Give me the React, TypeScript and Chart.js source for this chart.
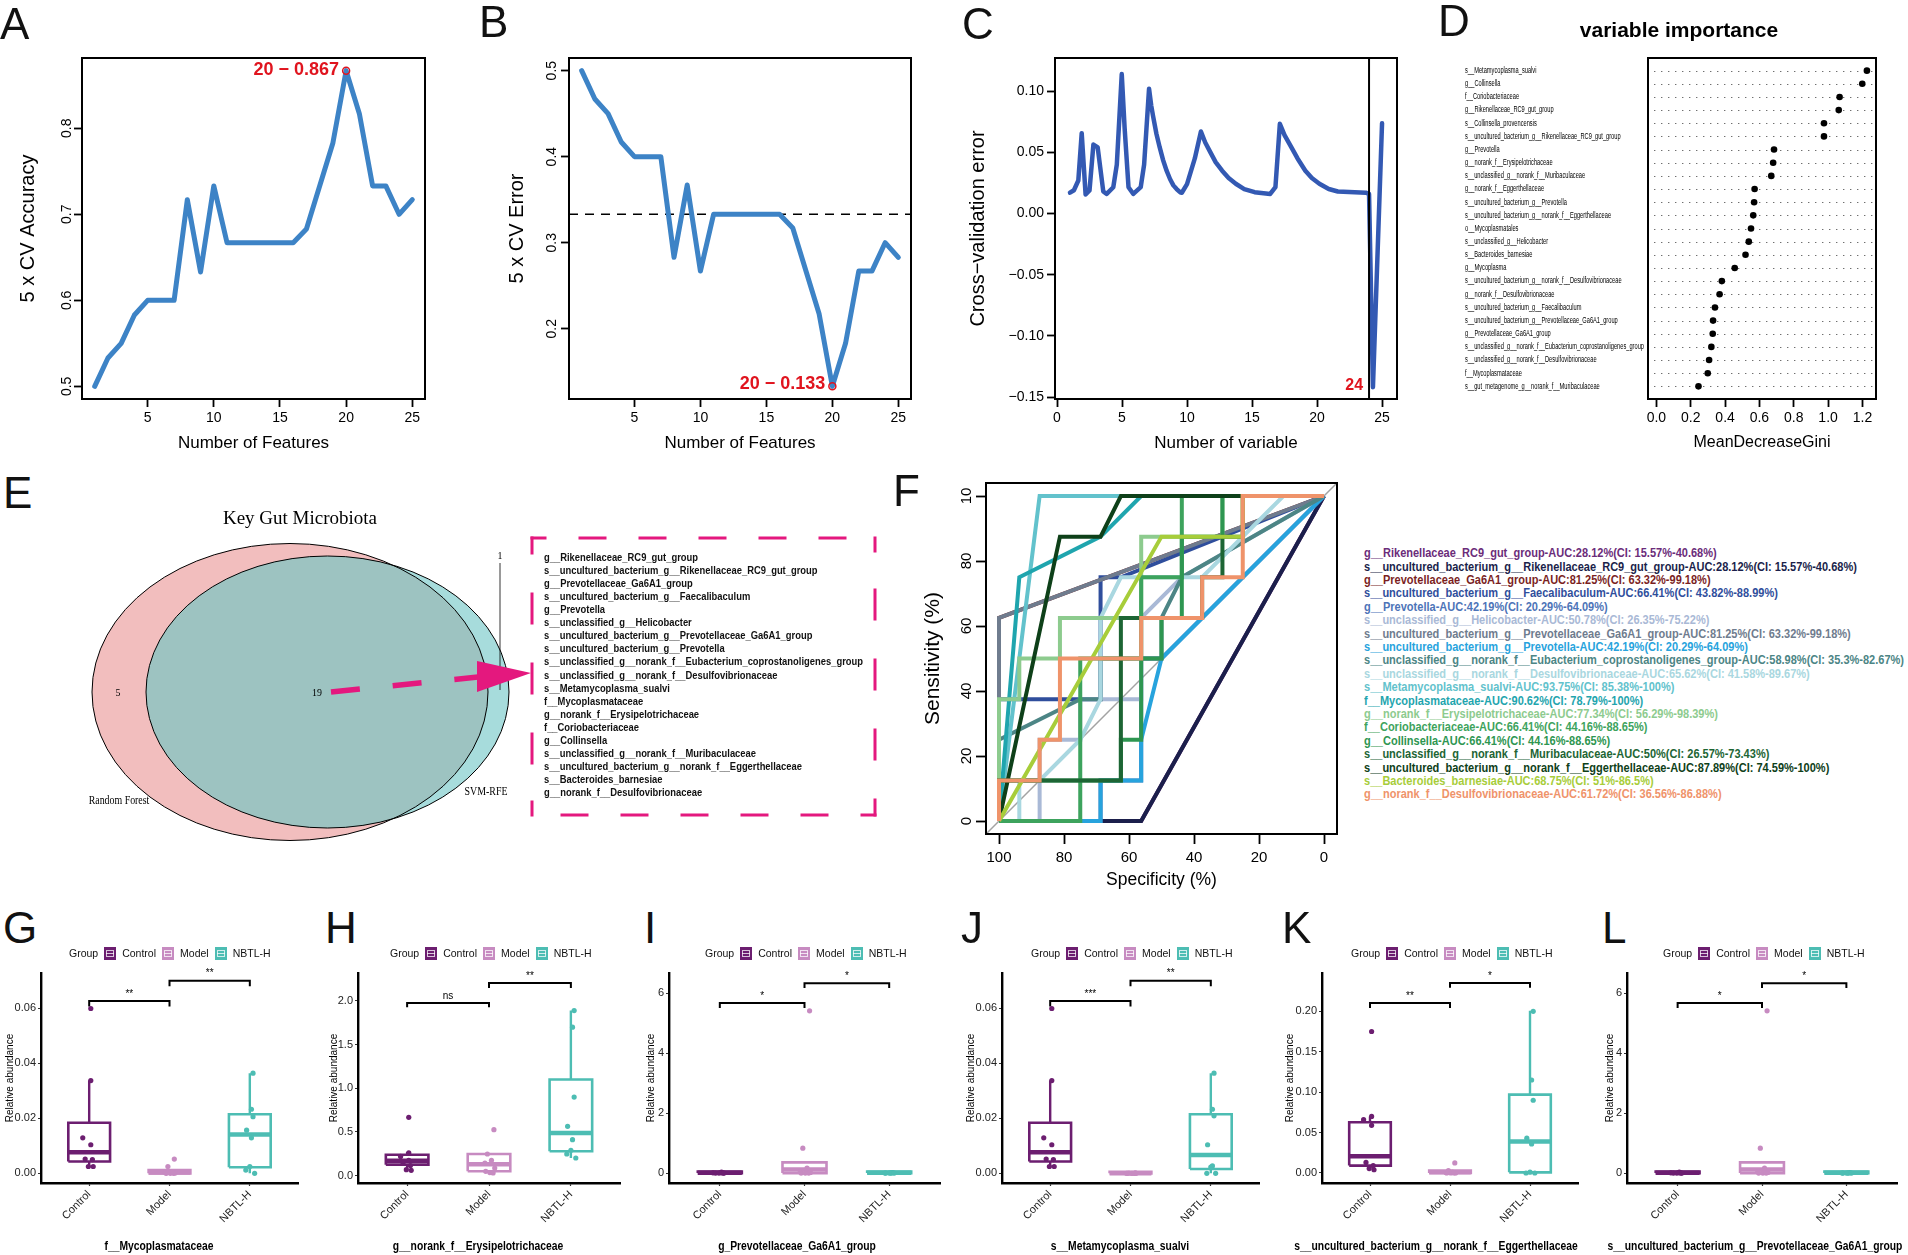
import React, { useEffect, useRef } from "react";
import { Chart, registerables } from "chart.js";

Chart.register(...registerables);

const SANS = "'Liberation Sans', Arial, Helvetica, sans-serif";
const SERIF = "'Liberation Serif', 'Times New Roman', Times, serif";
const RED = "#E0141E";
const LINE_BLUE = "#3D83C6";
const CURVE_BLUE = "#3359B3";

/* ---------------- A / B : SVM-RFE ---------------- */
const FEATURES = [1, 2, 3, 4, 5, 6, 7, 8, 9, 10, 11, 12, 13, 14, 15, 16, 17, 18, 19, 20, 21, 22, 23, 24, 25];
const CV_ACCURACY = [0.5, 0.533, 0.55, 0.583, 0.6, 0.6, 0.6, 0.717, 0.633, 0.733, 0.667, 0.667, 0.667, 0.667, 0.667, 0.667, 0.683, 0.733, 0.783, 0.867, 0.817, 0.733, 0.733, 0.7, 0.717];
const CV_ERROR = [0.5, 0.467, 0.45, 0.417, 0.4, 0.4, 0.4, 0.283, 0.367, 0.267, 0.333, 0.333, 0.333, 0.333, 0.333, 0.333, 0.317, 0.267, 0.217, 0.133, 0.183, 0.267, 0.267, 0.3, 0.283];
const FEATURE_TICKS = [5, 10, 15, 20, 25];
const ACC_TICKS = [0.5, 0.6, 0.7, 0.8];
const ERR_TICKS = [0.2, 0.3, 0.4, 0.5];
const BEST_N = 20;
const BEST_ACC = 0.867;
const BEST_ERR = 0.133;
const ERR_REF = 0.333;

/* ---------------- C : cross-validation ---------------- */
const C_X = [1.0, 1.3, 1.64, 1.9, 2.2, 2.5, 2.8, 3.13, 3.56, 3.82, 4.33, 4.6, 4.98, 5.2, 5.5, 5.87, 6.44, 6.7, 7.08, 7.25, 7.4, 7.65, 7.9, 8.15, 8.43, 8.7, 8.95, 9.2, 9.46, 9.6, 10.0, 10.6, 11.07, 11.4, 11.8, 12.2, 12.7, 13.2, 13.75, 14.4, 15.2, 16.4, 16.8, 17.14, 17.5, 18.03, 18.5, 19.1, 19.6, 20.18, 20.9, 21.6, 23.75, 24.0, 24.3, 25.0];
const C_Y = [0.017, 0.019, 0.027, 0.0656, 0.0155, 0.0188, 0.0564, 0.054, 0.018, 0.016, 0.0215, 0.04, 0.114, 0.07, 0.0215, 0.016, 0.0215, 0.04, 0.102, 0.088, 0.079, 0.065, 0.054, 0.044, 0.035, 0.028, 0.023, 0.02, 0.0174, 0.017, 0.024, 0.045, 0.067, 0.058, 0.05, 0.042, 0.035, 0.029, 0.0243, 0.02, 0.0174, 0.016, 0.0215, 0.0733, 0.064, 0.054, 0.045, 0.035, 0.029, 0.0243, 0.02, 0.018, 0.017, 0.016, -0.142, 0.0738];
const C_X_TICKS = [0, 5, 10, 15, 20, 25];
const C_Y_TICKS = [-0.15, -0.1, -0.05, 0, 0.05, 0.1];
const C_Y_LABELS = ["\u22120.15", "\u22120.10", "\u22120.05", "0.00", "0.05", "0.10"];
const C_BEST = 24;
const C_MIN = -0.142;

/* ---------------- D : variable importance ---------------- */
const D_TAXA = [
  "s__Metamycoplasma_sualvi", "g__Collinsella", "f__Coriobacteriaceae", "g__Rikenellaceae_RC9_gut_group",
  "s__Collinsella_provencensis", "s__uncultured_bacterium_g__Rikenellaceae_RC9_gut_group", "g__Prevotella",
  "g__norank_f__Erysipelotrichaceae", "s__unclassified_g__norank_f__Muribaculaceae", "g__norank_f__Eggerthellaceae",
  "s__uncultured_bacterium_g__Prevotella", "s__uncultured_bacterium_g__norank_f__Eggerthellaceae", "o__Mycoplasmatales",
  "s__unclassified_g__Helicobacter", "s__Bacteroides_barnesiae", "g__Mycoplasma",
  "s__uncultured_bacterium_g__norank_f__Desulfovibrionaceae", "g__norank_f__Desulfovibrionaceae",
  "s__uncultured_bacterium_g__Faecalibaculum", "s__uncultured_bacterium_g__Prevotellaceae_Ga6A1_group",
  "g__Prevotellaceae_Ga6A1_group", "s__unclassified_g__norank_f__Eubacterium_coprostanoligenes_group",
  "s__unclassified_g__norank_f__Desulfovibrionaceae", "f__Mycoplasmataceae", "s__gut_metagenome_g__norank_f__Muribaculaceae",
];
const D_GINI = [1.226, 1.199, 1.067, 1.062, 0.976, 0.976, 0.685, 0.68, 0.669, 0.572, 0.569, 0.564, 0.551, 0.538, 0.519, 0.456, 0.381, 0.368, 0.341, 0.33, 0.328, 0.32, 0.307, 0.299, 0.245];
const D_X_TICKS = [0, 0.2, 0.4, 0.6, 0.8, 1.0, 1.2];

/* ---------------- E : Venn ---------------- */
const VENN_SETS = ["Random Forest", "SVM-RFE"];
const VENN_COUNTS = [5, 19, 1];
const KEY_TAXA = [
  "g__Rikenellaceae_RC9_gut_group", "s__uncultured_bacterium_g__Rikenellaceae_RC9_gut_group", "g__Prevotellaceae_Ga6A1_group",
  "s__uncultured_bacterium_g__Faecalibaculum", "g__Prevotella", "s__unclassified_g__Helicobacter",
  "s__uncultured_bacterium_g__Prevotellaceae_Ga6A1_group", "s__uncultured_bacterium_g__Prevotella",
  "s__unclassified_g__norank_f__Eubacterium_coprostanoligenes_group", "s__unclassified_g__norank_f__Desulfovibrionaceae",
  "s__Metamycoplasma_sualvi", "f__Mycoplasmataceae", "g__norank_f__Erysipelotrichaceae", "f__Coriobacteriaceae",
  "g__Collinsella", "s__unclassified_g__norank_f__Muribaculaceae", "s__uncultured_bacterium_g__norank_f__Eggerthellaceae",
  "s__Bacteroides_barnesiae", "g__norank_f__Desulfovibrionaceae",
];

/* ---------------- F : ROC ---------------- */
const ROC_NAMES = [
  "g__Rikenellaceae_RC9_gut_group", "s__uncultured_bacterium_g__Rikenellaceae_RC9_gut_group", "g__Prevotellaceae_Ga6A1_group",
  "s__uncultured_bacterium_g__Faecalibaculum", "g__Prevotella", "s__unclassified_g__Helicobacter",
  "s__uncultured_bacterium_g__Prevotellaceae_Ga6A1_group", "s__uncultured_bacterium_g__Prevotella",
  "s__unclassified_g__norank_f__Eubacterium_coprostanoligenes_group", "s__unclassified_g__norank_f__Desulfovibrionaceae",
  "s__Metamycoplasma_sualvi", "f__Mycoplasmataceae", "g__norank_f__Erysipelotrichaceae", "f__Coriobacteriaceae",
  "g__Collinsella", "s__unclassified_g__norank_f__Muribaculaceae", "s__uncultured_bacterium_g__norank_f__Eggerthellaceae",
  "s__Bacteroides_barnesiae", "g__norank_f__Desulfovibrionaceae",
];
const ROC_AUC = ["28.12%", "28.12%", "81.25%", "66.41%", "42.19%", "50.78%", "81.25%", "42.19%", "58.98%", "65.62%", "93.75%", "90.62%", "77.34%", "66.41%", "66.41%", "50%", "87.89%", "68.75%", "61.72%"];
const ROC_CI = ["15.57%-40.68%", "15.57%-40.68%", "63.32%-99.18%", "43.82%-88.99%", "20.29%-64.09%", "26.35%-75.22%", "63.32%-99.18%", "20.29%-64.09%", "35.3%-82.67%", "41.58%-89.67%", "85.38%-100%", "78.79%-100%", "56.29%-98.39%", "44.16%-88.65%", "44.16%-88.65%", "26.57%-73.43%", "74.59%-100%", "51%-86.5%", "36.56%-86.88%"];
const ROC_COLORS = ["#6B2C7A", "#1B1F4B", "#7B1F1F", "#2F4E9C", "#4D74B8", "#A9B9D6", "#6F7C8E", "#27A3DD", "#4C8585", "#A9D7E0", "#62C2CC", "#1FA5AE", "#8DCB8E", "#3DA35D", "#2E9651", "#1D6534", "#0E4019", "#A7CD3A", "#EF936A"];
// [specificity, sensitivity] points of each ROC curve
const ROC_CURVES: number[][][] = [
  [[100, 0], [56.25, 0], [0, 100]],
  [[100, 0], [56.25, 0], [0, 100]],
  [[100, 0], [100, 62.5], [0, 100]],
  [[100, 0], [100, 37.5], [68.75, 37.5], [68.75, 75], [62.5, 75], [0, 100]],
  [[100, 0], [68.75, 0], [68.75, 12.5], [56.25, 12.5], [56.25, 50], [50, 50], [0, 100]],
  [[100, 0], [87.5, 0], [87.5, 25], [75, 25], [75, 37.5], [56.25, 37.5], [56.25, 62.5], [43.75, 75], [0, 100]],
  [[100, 0], [100, 62.5], [0, 100]],
  [[100, 0], [68.75, 0], [68.75, 12.5], [56.25, 12.5], [56.25, 25], [50, 50], [0, 100]],
  [[100, 0], [100, 25], [75, 37.5], [68.75, 37.5], [68.75, 50], [50, 50], [50, 62.5], [43.75, 75], [0, 100]],
  [[100, 0], [93.75, 0], [93.75, 12.5], [87.5, 12.5], [75, 25], [68.75, 37.5], [68.75, 62.5], [62.5, 75], [37.5, 75], [12.5, 100], [0, 100]],
  [[100, 0], [87.5, 100], [0, 100]],
  [[100, 0], [93.75, 75], [68.75, 87.5], [56.25, 100], [0, 100]],
  [[100, 0], [100, 37.5], [93.75, 37.5], [93.75, 50], [81.25, 50], [81.25, 62.5], [56.25, 62.5], [56.25, 87.5], [31.25, 87.5], [31.25, 100], [0, 100]],
  [[100, 0], [75, 0], [75, 50], [56.25, 50], [56.25, 75], [43.75, 75], [43.75, 100], [0, 100]],
  [[100, 0], [100, 12.5], [62.5, 12.5], [62.5, 25], [56.25, 25], [56.25, 50], [50, 50], [50, 62.5], [43.75, 62.5], [43.75, 87.5], [31.25, 87.5], [31.25, 100], [0, 100]],
  [[100, 0], [100, 12.5], [62.5, 12.5], [62.5, 62.5], [37.5, 62.5], [37.5, 75], [31.25, 75], [31.25, 87.5], [25, 87.5], [25, 100], [0, 100]],
  [[100, 0], [81.25, 87.5], [68.75, 87.5], [62.5, 100], [0, 100]],
  [[100, 0], [50, 87.5], [25, 87.5], [25, 100], [0, 100]],
  [[100, 0], [100, 12.5], [87.5, 12.5], [87.5, 25], [81.25, 25], [81.25, 50], [56.25, 50], [56.25, 62.5], [37.5, 62.5], [37.5, 75], [25, 75], [25, 100], [0, 100]],
];
const ROC_X_TICKS = [100, 80, 60, 40, 20, 0];
const ROC_Y_TICKS = [0, 20, 40, 60, 80, 100];
const ROC_Y_LABELS = ["0", "20", "40", "60", "80", "10"];

/* ---------------- G–L : boxplots ---------------- */
const GROUPS = ["Control", "Model", "NBTL-H"];
const GROUP_COLORS = ["#6C1E70", "#C78BC1", "#4DBDB3"];
const JITTER = [
  [0.02, 0.02, -0.08, 0.02, -0.05, 0.04, -0.01, 0.05],
  [0.06, -0.02, 0.03, -0.05, 0.07, -0.04, 0.01, 0.05],
  [0.04, 0.02, 0.04, -0.04, 0.02, 0.0, -0.05, 0.06],
];
// stats: [min, q1, median, q3, max] per group; sig: [from, to, y, tip, label]
const G_STATS = [[0.0025, 0.0043, 0.0077, 0.0184, 0.0337], [0, 0, 0.0003, 0.0012, 0.0012], [0, 0.0022, 0.0141, 0.0215, 0.0364]];
const G_POINTS = [[0.0599, 0.0337, 0.0129, 0.0104, 0.0052, 0.005, 0.0025, 0.0025], [0.0052, 0.0025, 0.0004, 0.0002, 0.0001, 0, 0, 0], [0.0364, 0.0233, 0.0206, 0.0157, 0.0129, 0.0025, 0.0012, 0]];
const G_SIG: [number, number, number, number, string][] = [[1, 2, 0.0626, 0.0606, "**"], [2, 3, 0.07, 0.068, "**"]];
const H_STATS = [[0.06, 0.126, 0.17, 0.24, 0.27], [0.03, 0.05, 0.13, 0.248, 0.26], [0.202, 0.279, 0.489, 1.1, 1.89]];
const H_POINTS = [[0.668, 0.26, 0.22, 0.176, 0.145, 0.115, 0.069, 0.061], [0.527, 0.248, 0.176, 0.145, 0.088, 0.05, 0.035, 0.031], [1.89, 1.7, 0.9, 0.565, 0.412, 0.29, 0.248, 0.202]];
const H_SIG: [number, number, number, number, string][] = [[1, 2, 1.977, 1.927, "ns"], [2, 3, 2.206, 2.149, "**"]];
const I_STATS = [[0, 0, 0.01, 0.05, 0.05], [0, 0, 0.12, 0.356, 0.356], [0, 0, 0.01, 0.05, 0.05]];
const I_POINTS = [[0.03, 0.02, 0.01, 0.01, 0, 0, 0, 0], [5.41, 0.83, 0.17, 0.05, 0.02, 0, 0, 0], [0.02, 0.01, 0.01, 0, 0, 0, 0, 0]];
const I_SIG: [number, number, number, number, string][] = [[1, 2, 5.67, 5.5, "*"], [2, 3, 6.33, 6.17, "*"]];
const J_STATS = [[0.0025, 0.0043, 0.0077, 0.0184, 0.0337], [0, 0, 0, 0.0006, 0.0006], [0, 0.0016, 0.0067, 0.0215, 0.0364]];
const J_POINTS = [[0.0599, 0.0337, 0.0129, 0.0104, 0.0052, 0.005, 0.0025, 0.0025], [0.0002, 0.0001, 0, 0, 0, 0, 0, 0], [0.0364, 0.0233, 0.0209, 0.0104, 0.0027, 0.0023, 0, 0]];
const J_SIG: [number, number, number, number, string][] = [[1, 2, 0.0626, 0.0606, "***"], [2, 3, 0.07, 0.068, "**"]];
const K_STATS = [[0.004, 0.0091, 0.0206, 0.0627, 0.07], [0, 0, 0.001, 0.003, 0.003], [0, 0.0008, 0.039, 0.0969, 0.2008]];
const K_POINTS = [[0.175, 0.07, 0.066, 0.059, 0.013, 0.009, 0.0054, 0.004], [0.0124, 0.003, 0.001, 0.0005, 0, 0, 0, 0], [0.2, 0.115, 0.09, 0.043, 0.036, 0.001, 0, 0]];
const K_SIG: [number, number, number, number, string][] = [[1, 2, 0.2103, 0.204, "**"], [2, 3, 0.235, 0.229, "*"]];
const L_STATS = [[0, 0, 0.01, 0.05, 0.05], [0, 0, 0.12, 0.356, 0.356], [0, 0, 0.01, 0.05, 0.05]];
const L_POINTS = [[0.03, 0.02, 0.01, 0.01, 0, 0, 0, 0], [5.41, 0.83, 0.17, 0.05, 0.02, 0, 0, 0], [0.02, 0.01, 0.01, 0, 0, 0, 0, 0]];
const L_SIG: [number, number, number, number, string][] = [[1, 2, 5.67, 5.5, "*"], [2, 3, 6.33, 6.17, "*"]];
const TICKS_SMALL = [0, 0.02, 0.04, 0.06];
const TICKS_SMALL_LBL = ["0.00", "0.02", "0.04", "0.06"];
const TICKS_H = [0, 0.5, 1, 1.5, 2];
const TICKS_H_LBL = ["0.0", "0.5", "1.0", "1.5", "2.0"];
const TICKS_INT = [0, 2, 4, 6];
const TICKS_INT_LBL = ["0", "2", "4", "6"];
const TICKS_K = [0, 0.05, 0.1, 0.15, 0.2];
const TICKS_K_LBL = ["0.00", "0.05", "0.10", "0.15", "0.20"];

/* ---------------- helpers ---------------- */
type Box = { left: number; top: number; width: number; height: number };
type Area = { L: number; T: number; R: number; B: number };
type Item = { x: number; y: number; text: string; font: string; color?: string; align?: CanvasTextAlign; baseline?: CanvasTextBaseline; dx?: number; dy?: number; rot?: number; sx?: number; page?: boolean };

let measureCtx: CanvasRenderingContext2D | null = null;
function textWidth(text: string, font: string) {
  if (!measureCtx) measureCtx = document.createElement("canvas").getContext("2d");
  if (!measureCtx) return text.length * 6;
  measureCtx.font = font;
  return measureCtx.measureText(text).width;
}

function drawItem(chart: any, b: Box, t: Item) {
  const ctx = chart.ctx;
  let px: number, py: number;
  if (t.page) { px = t.x - b.left; py = t.y - b.top; }
  else { px = chart.scales.x.getPixelForValue(t.x); py = chart.scales.y.getPixelForValue(t.y); }
  ctx.save();
  ctx.translate(px + (t.dx || 0), py + (t.dy || 0));
  if (t.rot) ctx.rotate(t.rot);
  if (t.sx) ctx.scale(t.sx, 1);
  ctx.font = t.font;
  ctx.fillStyle = t.color || "#000";
  ctx.textAlign = t.align || "center";
  ctx.textBaseline = t.baseline || "middle";
  ctx.fillText(t.text, 0, 0);
  ctx.restore();
}

function overlay(b: Box, o: { frame?: number; rotY?: { ticks: number[]; labels: string[]; pageX: number; font: string }; texts?: Item[]; under?: (c: any) => void; over?: (c: any) => void }) {
  return {
    id: "overlay",
    beforeDatasetsDraw(chart: any) { if (o.under) o.under(chart); },
    afterDatasetsDraw(chart: any) { if (o.over) o.over(chart); },
    afterDraw(chart: any) {
      const ctx = chart.ctx;
      const ca = chart.chartArea;
      if (o.frame) {
        ctx.save();
        ctx.lineWidth = o.frame;
        ctx.strokeStyle = "#000";
        ctx.strokeRect(ca.left, ca.top, ca.right - ca.left, ca.bottom - ca.top);
        ctx.restore();
      }
      if (o.rotY) {
        const r = o.rotY;
        const ys = chart.scales.y;
        r.ticks.forEach((v, i) => drawItem(chart, b, { page: true, x: r.pageX, y: ys.getPixelForValue(v) + b.top, text: r.labels[i], font: r.font, rot: -Math.PI / 2 }));
      }
      (o.texts || []).forEach((t) => drawItem(chart, b, t));
    },
  };
}

function axis(o: any) {
  return {
    type: "linear", bounds: "data", min: o.min, max: o.max, reverse: !!o.reverse, position: o.position,
    afterFit: o.fit,
    afterBuildTicks: (s: any) => { s.ticks = o.ticks.map((v: number) => ({ value: v })); },
    ticks: {
      display: o.showLabels !== false, autoSkip: false, minRotation: o.rotation || 0, maxRotation: o.rotation || 0,
      padding: o.pad ?? 3, color: o.color || "#000", font: { family: SANS, size: o.size || 14 },
      callback: (_v: any, i: number) => (o.labels ? o.labels[i] : ""),
    },
    grid: o.grid || { display: true, drawOnChartArea: false, drawTicks: true, tickLength: o.tl ?? 8, tickWidth: o.tickWidth ?? 1.8, tickColor: o.tickColor || "#000", color: "#000", lineWidth: 1 },
    border: o.border ? { display: true, width: o.border, color: "#000" } : { display: false },
    title: o.title
      ? { display: true, text: o.title, color: "#000", font: { family: SANS, size: o.titleSize, weight: "normal" }, padding: { top: o.titlePad, bottom: o.titlePad } }
      : { display: false },
  };
}

function baseOptions(b: Box, a: Area, scales: any) {
  return {
    responsive: false, animation: false, events: [],
    layout: { padding: { left: 0, bottom: 0, top: a.T - b.top, right: b.left + b.width - a.R } },
    plugins: { legend: { display: false }, tooltip: { enabled: false } },
    scales,
  };
}

function rPlot(b: Box, a: Area, s: any) {
  const W = a.L - b.left;
  const H = b.top + b.height - a.B;
  const xTitlePad = b.top + b.height - (s.xTitleSize * 1.2) / 2 - s.xTitleY;
  const yTitlePad = s.yTitleX - b.left - (s.yTitleSize * 1.2) / 2;
  return {
    type: "scatter",
    data: { datasets: s.datasets },
    options: baseOptions(b, a, {
      x: axis({ position: "bottom", min: s.xMin, max: s.xMax, reverse: s.xReverse, ticks: s.xTicks, labels: s.xLabels, size: s.tickSize, pad: s.xPad ?? 3, tl: s.tl ?? 8, title: s.xTitle, titleSize: s.xTitleSize, titlePad: xTitlePad, fit: (sc: any) => { sc.height = H; } }),
      y: axis({ position: "left", min: s.yMin, max: s.yMax, ticks: s.yTicks, labels: s.yLabels, showLabels: !s.yRotX && !s.hideY, size: s.tickSize, pad: 3, tl: s.tl ?? 8, grid: s.yGrid, title: s.yTitle, titleSize: s.yTitleSize, titlePad: yTitlePad, fit: (sc: any) => { sc.width = W; } }),
    }),
    plugins: [overlay(b, { frame: 2, rotY: s.yRotX ? { ticks: s.yTicks, labels: s.yLabels, pageX: s.yRotX, font: `${s.tickSize}px ${SANS}` } : undefined, texts: s.texts, under: s.under, over: s.over })],
  };
}

const line = (pts: { x: number; y: number | null }[], color: string, width: number, extra: any = {}) => ({
  data: pts, showLine: true, borderColor: color, borderWidth: width, pointRadius: 0, fill: false, ...extra,
});

/* ---------------- chart configs ---------------- */
const A_BOX: Box = { left: 6, top: 40, width: 434, height: 420 };
const A_AREA: Area = { L: 82, T: 58, R: 425, B: 399 };
const B_BOX: Box = { left: 495, top: 40, width: 435, height: 420 };
const B_AREA: Area = { L: 569, T: 58, R: 911, B: 399 };
const C_BOX: Box = { left: 956, top: 40, width: 452, height: 420 };
const C_AREA: Area = { L: 1055, T: 58, R: 1397, B: 399 };
const D_BOX: Box = { left: 1455, top: 40, width: 445, height: 420 };
const D_AREA: Area = { L: 1648, T: 58, R: 1876, B: 399 };
const F_BOX: Box = { left: 910, top: 468, width: 440, height: 437 };
const F_AREA: Area = { L: 986, T: 483, R: 1337, B: 834 };
const E_BOX: Box = { left: 0, top: 525, width: 890, height: 325 };

function configA() {
  return rPlot(A_BOX, A_AREA, {
    datasets: [
      line(FEATURES.map((n, i) => ({ x: n, y: CV_ACCURACY[i] })), LINE_BLUE, 5, { order: 2, borderJoinStyle: "round", borderCapStyle: "round" }),
      { data: [{ x: BEST_N, y: BEST_ACC }], pointRadius: 3.5, pointBorderColor: RED, pointBackgroundColor: "rgba(0,0,0,0)", pointBorderWidth: 1.5, order: 1 },
    ],
    xMin: 0.04, xMax: 25.96, xTicks: FEATURE_TICKS, xLabels: FEATURE_TICKS.map(String), xTitle: "Number of Features", xTitleSize: 17, xTitleY: 443,
    yMin: 0.4853, yMax: 0.8817, yTicks: ACC_TICKS, yLabels: ACC_TICKS.map((v) => v.toFixed(1)), yTitle: "5 x CV Accuracy", yTitleSize: 20, yTitleX: 28, yRotX: 67,
    tickSize: 14,
    texts: [{ x: BEST_N, y: BEST_ACC, text: `${BEST_N} \u2212 ${BEST_ACC}`, font: `bold 18px ${SANS}`, color: RED, align: "right", dx: -7, dy: -1 }],
  });
}

function configB() {
  return rPlot(B_BOX, B_AREA, {
    datasets: [
      line(FEATURES.map((n, i) => ({ x: n, y: CV_ERROR[i] })), LINE_BLUE, 5, { order: 2, borderJoinStyle: "round", borderCapStyle: "round" }),
      line([{ x: 0.04, y: ERR_REF }, { x: 25.96, y: ERR_REF }], "#000", 1.6, { order: 3, borderDash: [9, 7] }),
      { data: [{ x: BEST_N, y: BEST_ERR }], pointRadius: 3.5, pointBorderColor: RED, pointBackgroundColor: "rgba(0,0,0,0)", pointBorderWidth: 1.5, order: 1 },
    ],
    xMin: 0.04, xMax: 25.96, xTicks: FEATURE_TICKS, xLabels: FEATURE_TICKS.map(String), xTitle: "Number of Features", xTitleSize: 17, xTitleY: 443,
    yMin: 0.1183, yMax: 0.5147, yTicks: ERR_TICKS, yLabels: ERR_TICKS.map((v) => v.toFixed(1)), yTitle: "5 x CV Error", yTitleSize: 20, yTitleX: 517, yRotX: 552,
    tickSize: 14,
    texts: [{ x: BEST_N, y: BEST_ERR, text: `${BEST_N} \u2212 ${BEST_ERR}`, font: `bold 18px ${SANS}`, color: RED, align: "right", dx: -7, dy: -2 }],
  });
}

function configC() {
  return rPlot(C_BOX, C_AREA, {
    datasets: [
      line(C_X.map((x, i) => ({ x, y: C_Y[i] })), CURVE_BLUE, 4.5, { order: 2, tension: 0, borderJoinStyle: "round", borderCapStyle: "round" }),
      line([{ x: C_BEST, y: -0.1516 }, { x: C_BEST, y: 0.1271 }], "#000", 2, { order: 1 }),
    ],
    xMin: -0.154, xMax: 26.15, xTicks: C_X_TICKS, xLabels: C_X_TICKS.map(String), xTitle: "Number of variable", xTitleSize: 17, xTitleY: 443,
    yMin: -0.1516, yMax: 0.1271, yTicks: C_Y_TICKS, yLabels: C_Y_LABELS, yTitle: "Cross\u2212validation error", yTitleSize: 20, yTitleX: 978,
    tickSize: 14,
    texts: [{ x: C_BEST, y: C_MIN, text: String(C_BEST), font: `bold 16px ${SANS}`, color: RED, align: "right", dx: -6, dy: -2 }],
  });
}

function configD() {
  const b = D_BOX;
  const rows = D_TAXA.length;
  return rPlot(b, D_AREA, {
    datasets: [{ data: D_GINI.map((v, i) => ({ x: v, y: rows - i })), pointRadius: 3.3, pointBackgroundColor: "#000", pointBorderWidth: 0, order: 1 }],
    xMin: -0.049, xMax: 1.279, xTicks: D_X_TICKS, xLabels: D_X_TICKS.map((v) => v.toFixed(1)), xTitle: "MeanDecreaseGini", xTitleSize: 16, xTitleY: 443,
    yMin: 0.04, yMax: rows + 0.96, yTicks: D_TAXA.map((_t, i) => i + 1), yLabels: [], hideY: true, yTitleSize: 12, yTitleX: 1470,
    yGrid: { display: false },
    tickSize: 14,
    under: (chart: any) => {
      const ctx = chart.ctx;
      const ys = chart.scales.y;
      const ca = chart.chartArea;
      ctx.save();
      ctx.strokeStyle = "#6f6f6f";
      ctx.lineWidth = 1;
      ctx.setLineDash([1.4, 5.6]);
      D_TAXA.forEach((_t, i) => {
        const y = Math.round(ys.getPixelForValue(rows - i)) + 0.5;
        ctx.beginPath();
        ctx.moveTo(ca.left + 6, y);
        ctx.lineTo(ca.right - 2, y);
        ctx.stroke();
      });
      ctx.restore();
    },
    over: (chart: any) => {
      const ctx = chart.ctx;
      const ys = chart.scales.y;
      const f = `8.5px ${SANS}`;
      ctx.save();
      ctx.font = f;
      const maxW = Math.max(...D_TAXA.map((t) => ctx.measureText(t).width));
      const sx = 179 / maxW;
      D_TAXA.forEach((t, i) => {
        ctx.save();
        ctx.translate(1465 - b.left, ys.getPixelForValue(rows - i));
        ctx.scale(sx, 1);
        ctx.font = f;
        ctx.fillStyle = "#000";
        ctx.textAlign = "left";
        ctx.textBaseline = "middle";
        ctx.fillText(t, 0, 0);
        ctx.restore();
      });
      ctx.restore();
    },
  });
}

function configF() {
  return rPlot(F_BOX, F_AREA, {
    datasets: [
      line([{ x: 104, y: -4 }, { x: -4, y: 104 }], "#A3A3A3", 1.5, { order: 500 }),
      ...ROC_CURVES.map((c, i) => line(c.map(([sp, se]) => ({ x: sp, y: se })), ROC_COLORS[i], 4, { order: 200 - i, borderJoinStyle: "miter" })),
    ],
    xMin: -4, xMax: 104, xReverse: true, xTicks: ROC_X_TICKS, xLabels: ROC_X_TICKS.map(String), xTitle: "Specificity (%)", xTitleSize: 17.5, xTitleY: 880, xPad: 5, tl: 10,
    yMin: -4, yMax: 104, yTicks: ROC_Y_TICKS, yLabels: ROC_Y_LABELS, yTitle: "Sensitivity (%)", yTitleSize: 21, yTitleX: 933, yRotX: 967,
    tickSize: 15,
  });
}

const VENN_GEOM = {
  rf: { cx: 290, cy: 692, rx: 198, ry: 148.5, fill: "#F2BEBE" },
  svm: { cx: 327.5, cy: 692, rx: 181.5, ry: 136, fill: "#A7DCDC" },
  both: "#9DC3C1",
  labels: [[118, 693], [317, 693], [500, 556]],
  names: [[119, 801], [486, 792]],
  leader: [[500, 563], [500, 690]],
  arrow: [[331, 692], [478, 677]],
  head: [[477, 661], [531, 673], [477, 692]],
  rect: [532, 538, 875, 815],
};
const MAGENTA = "#E4187E";

function configE() {
  const b = E_BOX;
  const g = VENN_GEOM;
  const under = (chart: any) => {
    const ctx = chart.ctx;
    const sx = chart.scales.x, sy = chart.scales.y;
    const ell = (e: any) => {
      const cx = sx.getPixelForValue(e.cx), cy = sy.getPixelForValue(e.cy);
      const rx = Math.abs(sx.getPixelForValue(e.cx + e.rx) - cx), ry = Math.abs(sy.getPixelForValue(e.cy + e.ry) - cy);
      ctx.beginPath();
      ctx.ellipse(cx, cy, rx, ry, 0, 0, Math.PI * 2);
    };
    ctx.save();
    ell(g.rf); ctx.fillStyle = g.rf.fill; ctx.fill();
    ell(g.svm); ctx.fillStyle = g.svm.fill; ctx.fill();
    ctx.save(); ell(g.rf); ctx.clip(); ell(g.svm); ctx.fillStyle = g.both; ctx.fill(); ctx.restore();
    ctx.lineWidth = 1; ctx.strokeStyle = "#000";
    ell(g.rf); ctx.stroke();
    ell(g.svm); ctx.stroke();
    ctx.lineWidth = 0.8;
    ctx.beginPath();
    ctx.moveTo(sx.getPixelForValue(g.leader[0][0]), sy.getPixelForValue(g.leader[0][1]));
    ctx.lineTo(sx.getPixelForValue(g.leader[1][0]), sy.getPixelForValue(g.leader[1][1]));
    ctx.stroke();
    const [x1, y1, x2, y2] = g.rect;
    const p1 = [sx.getPixelForValue(x1), sy.getPixelForValue(y1)], p2 = [sx.getPixelForValue(x2), sy.getPixelForValue(y2)];
    ctx.strokeStyle = MAGENTA; ctx.lineWidth = 3; ctx.lineCap = "butt";
    const side = (ax: number, ay: number, bx: number, by: number, d: number[]) => {
      ctx.setLineDash(d); ctx.lineDashOffset = 0;
      ctx.beginPath(); ctx.moveTo(ax, ay); ctx.lineTo(bx, by); ctx.stroke();
    };
    side(p1[0] - 1.5, p1[1], p2[0] + 1.5, p1[1], [16, 32, 28, 32, 28, 32, 28, 32, 28, 32, 28, 32]);
    side(p2[0], p1[1] - 1.5, p2[0], p2[1] + 1.5, [16, 36, 32, 38, 32, 38, 32, 38, 32, 38]);
    side(p2[0] + 1.5, p2[1], p1[0] - 1.5, p2[1], [16, 32, 28, 32, 28, 32, 28, 32, 28, 32, 28, 32]);
    side(p1[0], p2[1] + 1.5, p1[0], p1[1] - 1.5, [16, 36, 32, 38, 32, 38, 32, 38, 32, 38]);
    ctx.setLineDash([]);
    ctx.restore();
  };
  const over = (chart: any) => {
    const ctx = chart.ctx;
    const sx = chart.scales.x, sy = chart.scales.y;
    ctx.save();
    ctx.fillStyle = MAGENTA;
    ctx.beginPath();
    g.head.forEach(([x, y], i) => { const px = sx.getPixelForValue(x), py = sy.getPixelForValue(y); if (i === 0) ctx.moveTo(px, py); else ctx.lineTo(px, py); });
    ctx.closePath(); ctx.fill();
    ctx.restore();
  };
  const texts: Item[] = [
    ...VENN_COUNTS.map((c, i) => ({ x: g.labels[i][0], y: g.labels[i][1], text: String(c), font: `11px ${SERIF}`, sx: 0.9 })),
    ...VENN_SETS.map((s, i) => ({ x: g.names[i][0], y: g.names[i][1], text: s, font: `11.5px ${SERIF}`, sx: 0.86 })),
  ];
  return {
    type: "scatter",
    data: { datasets: [line([{ x: g.arrow[0][0], y: g.arrow[0][1] }, { x: g.arrow[1][0], y: g.arrow[1][1] }], MAGENTA, 5.5, { borderDash: [29, 33], borderCapStyle: "butt" })] },
    options: {
      responsive: false, animation: false, events: [],
      layout: { padding: 0 },
      plugins: { legend: { display: false }, tooltip: { enabled: false } },
      scales: {
        x: { type: "linear", min: 0, max: b.width, display: false },
        y: { type: "linear", min: b.top, max: b.top + b.height, reverse: true, display: false },
      },
    },
    plugins: [{
      id: "venn",
      beforeDatasetsDraw: (c: any) => { under(c); texts.forEach((t) => drawItem(c, b, t)); },
      afterDatasetsDraw: (c: any) => over(c),
    }],
  };
}

type PanelData = { stats: number[][]; pts: number[][]; sig: [number, number, number, number, string][]; ticks: number[]; labels: string[]; yMin: number; yMax: number; title: string };
const PANEL_DATA: PanelData[] = [
  { stats: G_STATS, pts: G_POINTS, sig: G_SIG, ticks: TICKS_SMALL, labels: TICKS_SMALL_LBL, yMin: -0.0035, yMax: 0.0728, title: "f__Mycoplasmataceae" },
  { stats: H_STATS, pts: H_POINTS, sig: H_SIG, ticks: TICKS_H, labels: TICKS_H_LBL, yMin: -0.084, yMax: 2.32, title: "g__norank_f__Erysipelotrichaceae" },
  { stats: I_STATS, pts: I_POINTS, sig: I_SIG, ticks: TICKS_INT, labels: TICKS_INT_LBL, yMin: -0.33, yMax: 6.67, title: "g_Prevotellaceae_Ga6A1_group" },
  { stats: J_STATS, pts: J_POINTS, sig: J_SIG, ticks: TICKS_SMALL, labels: TICKS_SMALL_LBL, yMin: -0.0035, yMax: 0.0728, title: "s__Metamycoplasma_sualvi" },
  { stats: K_STATS, pts: K_POINTS, sig: K_SIG, ticks: TICKS_K, labels: TICKS_K_LBL, yMin: -0.0124, yMax: 0.2474, title: "s__uncultured_bacterium_g__norank_f__Eggerthellaceae" },
  { stats: L_STATS, pts: L_POINTS, sig: L_SIG, ticks: TICKS_INT, labels: TICKS_INT_LBL, yMin: -0.33, yMax: 6.67, title: "s__uncultured_bacterium_g__Prevotellaceae_Ga6A1_group" },
];
const PANEL_LAYOUT = [
  { letter: "G", letterX: 3, L: 41, R: 298, titleX: 10, titleCx: 159, legendX: 69 },
  { letter: "H", letterX: 325, L: 358, R: 620, titleX: 334, titleCx: 478, legendX: 390 },
  { letter: "I", letterX: 644, L: 669, R: 940, titleX: 651, titleCx: 797, legendX: 705 },
  { letter: "J", letterX: 961, L: 1002, R: 1259, titleX: 971, titleCx: 1120, legendX: 1031 },
  { letter: "K", letterX: 1282, L: 1322, R: 1578, titleX: 1290, titleCx: 1436, legendX: 1351 },
  { letter: "L", letterX: 1602, L: 1627, R: 1897, titleX: 1610, titleCx: 1755, legendX: 1663 },
];
const BOX_TOP = 973, BOX_BOTTOM = 1183;

function panelBox(i: number): Box {
  const p = PANEL_LAYOUT[i];
  const left = p.titleX - 8;
  return { left, top: 955, width: p.R + 10 - left, height: 1255 - 955 };
}

function configBox(i: number) {
  const p = PANEL_LAYOUT[i];
  const d = PANEL_DATA[i];
  const b = panelBox(i);
  const a: Area = { L: p.L, T: BOX_TOP, R: p.R, B: BOX_BOTTOM };
  const hw = 0.26;
  const ds: any[] = [];
  d.stats.forEach((s, gi) => {
    const c = gi + 1;
    const [mn, q1, md, q3, mx] = s;
    const col = GROUP_COLORS[gi];
    ds.push(line([{ x: c - hw, y: q1 }, { x: c - hw, y: q3 }, { x: c + hw, y: q3 }, { x: c + hw, y: q1 }, { x: c - hw, y: q1 }], col, 2.6, { order: 4, borderJoinStyle: "miter" }));
    ds.push(line([{ x: c, y: q3 }, { x: c, y: mx }, { x: c, y: null }, { x: c, y: mn }, { x: c, y: q1 }], col, 2.4, { order: 5, spanGaps: false }));
    ds.push(line([{ x: c - hw, y: md }, { x: c + hw, y: md }], col, 4.5, { order: 3 }));
    ds.push({ data: d.pts[gi].map((v, k) => ({ x: c + JITTER[gi][k], y: v })), pointRadius: 2.6, pointBackgroundColor: col, pointBorderWidth: 0, order: 1 });
  });
  const br: { x: number; y: number | null }[] = [];
  d.sig.forEach(([f, t, y, tip]) => { br.push({ x: f, y: tip }, { x: f, y }, { x: t, y }, { x: t, y: tip }, { x: t, y: null }); });
  ds.push(line(br, "#000", 2, { order: 2, spanGaps: false }));
  const W = a.L - b.left;
  const H = b.top + b.height - a.B;
  const texts: Item[] = [
    ...d.sig.map(([f, t, y, _tip, lbl]) => ({ x: (f + t) / 2, y, text: lbl, font: `10px ${SANS}`, dy: -7 })),
    { page: true, x: p.titleCx, y: 1247, text: d.title, font: `bold 12px ${SANS}`, sx: 0.86 },
  ];
  return {
    type: "scatter",
    data: { datasets: ds },
    options: baseOptions(b, a, {
      x: axis({ position: "bottom", min: 0.4, max: 3.6, ticks: [1, 2, 3], labels: GROUPS, rotation: 45, size: 11, pad: 2, tl: 3, tickWidth: 1.2, tickColor: "#333", color: "#222", border: 2.4, fit: (sc: any) => { sc.height = H; } }),
      y: axis({ position: "left", min: d.yMin, max: d.yMax, ticks: d.ticks, labels: d.labels, size: 11, pad: 2, tl: 3, tickWidth: 1.2, tickColor: "#333", color: "#222", border: 2.4, title: "Relative abundance", titleSize: 10, titlePad: 2, fit: (sc: any) => { sc.width = W; } }),
    }),
    plugins: [overlay(b, { texts })],
  };
}

/* ---------------- components ---------------- */
function ChartCanvas({ box, config }: { box: Box; config: () => any }) {
  const ref = useRef<HTMLCanvasElement | null>(null);
  useEffect(() => {
    if (!ref.current) return;
    const chart = new Chart(ref.current, config());
    return () => chart.destroy();
  }, []);
  return <canvas ref={ref} width={box.width} height={box.height} style={{ position: "absolute", left: box.left, top: box.top, width: box.width, height: box.height }} />;
}

function Txt({ x, y, size, children, weight = 400, color = "#000", family = SANS, align = "left", sx = 1 }: any) {
  const tx = align === "center" ? "translateX(-50%) " : align === "right" ? "translateX(-100%) " : "";
  const origin = align === "center" ? "50% 50%" : align === "right" ? "100% 50%" : "0 50%";
  return (
    <div style={{ position: "absolute", left: x, top: y - size * 0.55, fontSize: size, lineHeight: `${size}px`, fontWeight: weight, color, fontFamily: family, whiteSpace: "nowrap", transform: `${tx}scaleX(${sx})`, transformOrigin: origin }}>
      {children}
    </div>
  );
}

function Letter({ x, capTop, ch }: { x: number; capTop: number; ch: string }) {
  return <div style={{ position: "absolute", left: x, top: capTop - 5.7, fontSize: 44, lineHeight: "44px", fontFamily: SANS, color: "#111" }}>{ch}</div>;
}

function KeyGlyph({ color }: { color: string }) {
  return (
    <span style={{ position: "relative", display: "inline-block", width: 12, height: 13, background: color }}>
      <span style={{ position: "absolute", left: 2, top: 3, width: 6, height: 5, border: "1px solid rgba(255,255,255,0.75)" }} />
      <span style={{ position: "absolute", left: 2, top: 6, width: 8, height: 1, background: "rgba(255,255,255,0.75)" }} />
    </span>
  );
}

function GroupLegend({ x, y }: { x: number; y: number }) {
  return (
    <div style={{ position: "absolute", left: x, top: y - 8, height: 16, display: "flex", alignItems: "center", fontSize: 10.5, fontFamily: SANS, color: "#111", whiteSpace: "nowrap" }}>
      <span style={{ marginRight: 6 }}>Group</span>
      {GROUPS.map((g, i) => (
        <React.Fragment key={g}>
          <KeyGlyph color={GROUP_COLORS[i]} />
          <span style={{ marginLeft: 6, marginRight: 6 }}>{g}</span>
        </React.Fragment>
      ))}
    </div>
  );
}

export default function App() {
  useEffect(() => { document.body.style.margin = "0"; }, []);
  const rocLines = ROC_NAMES.map((n, i) => `${n}-AUC:${ROC_AUC[i]}(CI: ${ROC_CI[i]})`);
  const rocFont = `bold 12.5px ${SANS}`;
  const rocSx = 540 / Math.max(...rocLines.map((l) => textWidth(l, rocFont)));
  const keyFont = `bold 11.5px ${SANS}`;
  const keySx = 319 / Math.max(...KEY_TAXA.map((t) => textWidth(t, keyFont)));
  return (
    <div style={{ position: "absolute", left: 0, top: 0, width: 1908, height: 1255, background: "#fff", overflow: "hidden", fontFamily: SANS }}>
      <ChartCanvas box={A_BOX} config={configA} />
      <ChartCanvas box={B_BOX} config={configB} />
      <ChartCanvas box={C_BOX} config={configC} />
      <ChartCanvas box={D_BOX} config={configD} />
      <ChartCanvas box={E_BOX} config={configE} />
      <ChartCanvas box={F_BOX} config={configF} />
      {PANEL_LAYOUT.map((_p, i) => <ChartCanvas key={i} box={panelBox(i)} config={() => configBox(i)} />)}

      <Letter x={0} capTop={8} ch="A" />
      <Letter x={479} capTop={6} ch="B" />
      <Letter x={962} capTop={8} ch="C" />
      <Letter x={1438} capTop={5} ch="D" />
      <Letter x={3} capTop={477} ch="E" />
      <Letter x={893} capTop={475} ch="F" />
      {PANEL_LAYOUT.map((p) => <Letter key={p.letter} x={p.letterX} capTop={912} ch={p.letter} />)}

      <Txt x={1679} y={31} size={21} weight={700} align="center">variable importance</Txt>
      <Txt x={300} y={518} size={19} family={SERIF} align="center">Key Gut Microbiota</Txt>

      {KEY_TAXA.map((t, i) => (
        <Txt key={t} x={544} y={558 + 13.1 * i} size={11.5} weight={700} sx={keySx} color="#111">{t}</Txt>
      ))}

      {rocLines.map((l, i) => (
        <Txt key={l + i} x={1364} y={554 + 13.4 * i} size={12.5} weight={700} sx={rocSx} color={ROC_COLORS[i]}>{l}</Txt>
      ))}

      {PANEL_LAYOUT.map((p) => <GroupLegend key={p.letter} x={p.legendX} y={953} />)}
    </div>
  );
}
